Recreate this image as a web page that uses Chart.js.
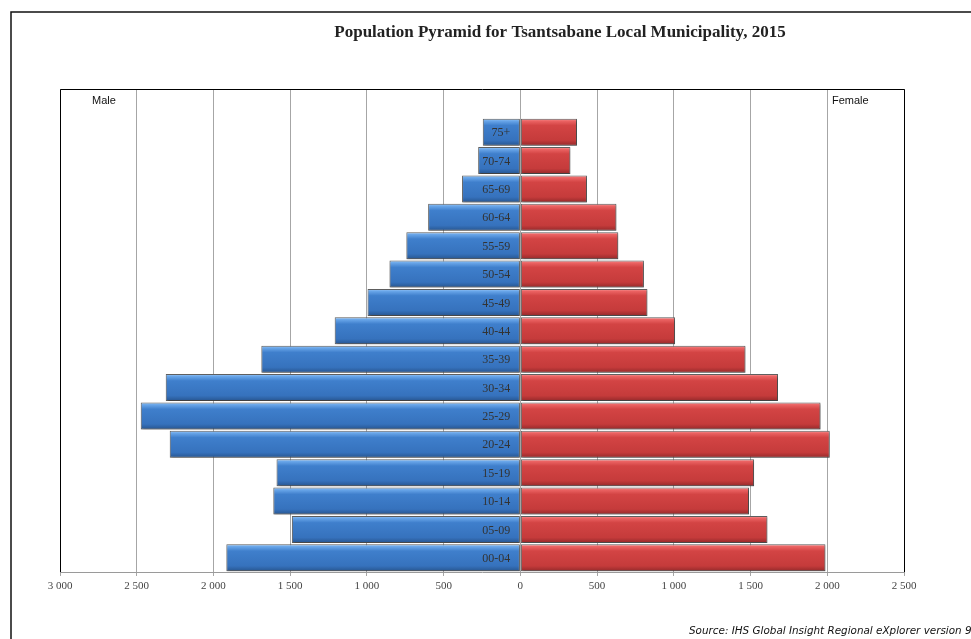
<!DOCTYPE html>
<html>
<head>
<meta charset="utf-8">
<script src="https://cdn.jsdelivr.net/npm/chart.js@4.4.1/dist/chart.umd.min.js"></script>
<style>
  html, body { margin: 0; padding: 0; background: #ffffff; }
  canvas { display: block; }
</style>
</head>
<body>
<canvas id="myChart" width="971" height="639"></canvas>
<script>
// age groups, top of the pyramid first
const ageGroups = ['75+', '70-74', '65-69', '60-64', '55-59', '50-54', '45-49', '40-44',
  '35-39', '30-34', '25-29', '20-24', '15-19', '10-14', '05-09', '00-04'];
const maleValues = [245, 275, 380, 601, 743, 853, 996, 1210, 1688, 2311, 2474, 2285, 1589, 1610, 1489, 1916];
const femaleValues = [369, 326, 434, 626, 638, 805, 828, 1008, 1467, 1679, 1956, 2016, 1523, 1490, 1610, 1988];
const xTickValues = [-3000, -2500, -2000, -1500, -1000, -500, 0, 500, 1000, 1500, 2000, 2500];

const chartTitle = 'Population Pyramid for Tsantsabane Local Municipality, 2015';
const sourceText = 'Source: IHS Global Insight Regional eXplorer version 95';

const BAR_PCT = 0.95;
const PLOT_TOP = 89;

// excel-ish 3D shading for each bar
const blueStops = [[0, '#a4cdf8'], [0.08, '#6aa7ea'], [0.25, '#3f7fcc'], [0.8, '#3672bd'], [1, '#27558f']];
const redStops = [[0, '#f8a6a6'], [0.08, '#ec6464'], [0.25, '#d34444'], [0.8, '#c53b3b'], [1, '#94292a']];

function barFill(ctx, stops) {
  const chart = ctx.chart;
  const y = chart.scales.y;
  if (!y || ctx.type !== 'data' || !chart.chartArea) return stops[2][1];
  const cy = y.getPixelForValue(ctx.dataIndex);
  const half = Math.abs(y.getPixelForValue(1) - y.getPixelForValue(0)) * BAR_PCT / 2;
  if (!isFinite(cy) || !isFinite(half) || half <= 0) return stops[2][1];
  const g = chart.ctx.createLinearGradient(0, cy - half, 0, cy + half);
  stops.forEach(([p, c]) => g.addColorStop(p, c));
  return g;
}

function fmt(v) {
  return String(Math.abs(v)).replace(/\B(?=(\d{3})+(?!\d))/g, ' ');
}

// same pixel snapping chart.js uses for 1px grid lines
const snap = (px) => Math.round(px - 0.5) + 0.5;

const decorPlugin = {
  id: 'decor',
  beforeDraw(chart) {
    const c = chart.ctx;
    c.save();
    c.fillStyle = '#ffffff';
    c.fillRect(0, 0, chart.width, chart.height);
    // outer frame (only top and left visible)
    c.strokeStyle = '#111';
    c.lineWidth = 1.5;
    c.beginPath();
    c.moveTo(11, chart.height);
    c.lineTo(11, 12);
    c.lineTo(chart.width, 12);
    c.stroke();

    c.fillStyle = '#222';
    c.font = 'bold 17px "Liberation Serif"';
    c.textAlign = 'center';
    c.textBaseline = 'middle';
    c.fillText(chartTitle, 560, 33);

    c.font = 'italic 10.4px "DejaVu Sans"';
    c.textAlign = 'left';
    c.fillStyle = '#111';
    c.fillText(sourceText, 689, 631);
    c.restore();
  },
  beforeDatasetsDraw(chart) {
    const c = chart.ctx;
    const x = chart.scales.x;
    const area = chart.chartArea;
    c.save();
    c.strokeStyle = '#a6a6a6';
    c.lineWidth = 1;
    xTickValues.forEach(v => {
      const px = snap(x.getPixelForValue(v));
      c.beginPath();
      c.moveTo(px, PLOT_TOP);
      c.lineTo(px, area.top);
      c.stroke();
    });
    c.restore();
    // soft drop shadow under the bars
    c.save();
    c.shadowColor = 'rgba(0,0,0,0.35)';
    c.shadowOffsetX = 1;
    c.shadowOffsetY = 1.5;
    c.shadowBlur = 2;
  },
  afterDatasetsDraw(chart) {
    chart.ctx.restore();
  },
  afterDraw(chart) {
    const c = chart.ctx;
    const area = chart.chartArea;
    const x = chart.scales.x;
    const y = chart.scales.y;
    c.save();
    // plot frame
    c.strokeStyle = '#000';
    c.lineWidth = 1;
    const l = snap(area.left), r = snap(area.right);
    c.beginPath();
    c.moveTo(l, area.bottom);
    c.lineTo(l, PLOT_TOP + 0.5);
    c.lineTo(r, PLOT_TOP + 0.5);
    c.lineTo(r, area.bottom);
    c.stroke();

    c.font = '11px "Liberation Sans"';
    c.fillStyle = '#111';
    c.textBaseline = 'middle';
    c.textAlign = 'left';
    c.fillText('Male', 92, 101);
    c.fillText('Female', 832, 101);

    // age labels inside the male bars
    const zero = x.getPixelForValue(0);
    c.font = '12px "Liberation Serif"';
    c.fillStyle = '#333';
    c.textAlign = 'right';
    ageGroups.forEach((lab, i) => {
      c.fillText(lab, zero - 10, y.getPixelForValue(i) + 1);
    });
    c.restore();
  }
};

const config = {
  type: 'bar',
  data: {
    labels: ageGroups,
    datasets: [
      {
        label: 'Male',
        data: maleValues.map(v => -v),
        backgroundColor: (ctx) => barFill(ctx, blueStops),
        borderColor: '#5f5f5f',
        borderWidth: 1,
        borderSkipped: false,
        barPercentage: BAR_PCT,
        categoryPercentage: 1
      },
      {
        label: 'Female',
        data: femaleValues,
        backgroundColor: (ctx) => barFill(ctx, redStops),
        borderColor: '#5f5f5f',
        borderWidth: 1,
        borderSkipped: false,
        barPercentage: BAR_PCT,
        categoryPercentage: 1
      }
    ]
  },
  options: {
    indexAxis: 'y',
    responsive: false,
    animation: false,
    layout: { padding: { left: 60, right: 67, top: 118, bottom: 0 } },
    plugins: {
      legend: { display: false },
      title: { display: false },
      tooltip: { enabled: false }
    },
    scales: {
      x: {
        stacked: true,
        min: -3000,
        max: 2500,
        afterBuildTicks: (scale) => { scale.ticks = xTickValues.map(v => ({ value: v })); },
        afterFit: (scale) => { scale.height = 67; },
        grid: { color: '#a6a6a6', tickLength: 4, drawTicks: true },
        border: { color: '#9a9a9a', width: 1 },
        ticks: {
          autoSkip: false,
          maxRotation: 0,
          padding: 4,
          color: '#444',
          font: { family: '"Liberation Serif"', size: 11 },
          callback: (v) => fmt(v)
        }
      },
      y: {
        stacked: true,
        display: false
      }
    }
  },
  plugins: [decorPlugin]
};

const myChart = new Chart(document.getElementById('myChart').getContext('2d'), config);
</script>
</body>
</html>
